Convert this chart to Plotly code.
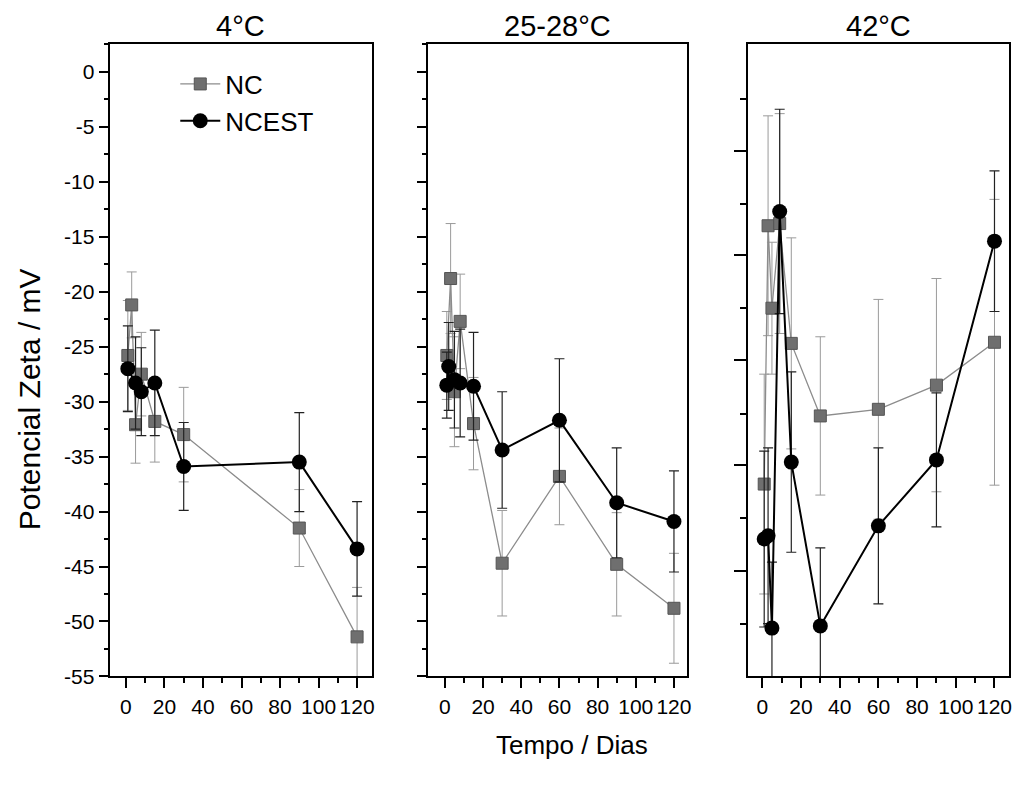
import plotly.graph_objects as go
from plotly.subplots import make_subplots

# 4 oC
d1_nc = [1, 3, 5, 8, 15, 30, 90, 120]
v1_nc = [-25.8, -21.2, -32.1, -27.5, -31.8, -33.0, -41.5, -51.4]
e1_nc = [5.0, 3.0, 3.5, 3.8, 3.7, 4.3, 3.5, 4.5]
d1_st = [1, 5, 8, 15, 30, 90, 120]
v1_st = [-27.0, -28.3, -29.1, -28.3, -35.9, -35.5, -43.4]
e1_st = [3.9, 4.2, 4.0, 4.8, 4.0, 4.5, 4.3]

# 25-28 oC
d2_nc = [1, 3, 5, 8, 15, 30, 60, 90, 120]
v2_nc = [-25.8, -18.8, -29.1, -22.7, -32.0, -44.7, -36.8, -44.8, -48.8]
e2_nc = [4.0, 5.0, 5.0, 4.3, 4.2, 4.8, 4.4, 4.7, 5.0]
d2_st = [1, 2, 5, 8, 15, 30, 60, 90, 120]
v2_st = [-28.5, -26.8, -28.0, -28.3, -28.6, -34.4, -31.7, -39.2, -40.9]
e2_st = [3.0, 4.0, 4.4, 4.9, 4.9, 5.3, 5.6, 5.0, 4.6]

# 42 oC
d3_nc = [1, 3, 5, 9, 15, 30, 60, 90, 120]
v3_nc = [-37.5, -14.0, -21.5, -13.8, -24.7, -31.3, -30.7, -28.5, -24.6]
e3_nc = [10.0, 10.0, 6.0, 10.0, 9.6, 7.2, 10.0, 9.7, 13.0]
d3_st = [1, 3, 5, 9, 15, 30, 60, 90, 120]
v3_st = [-42.5, -42.2, -50.6, -12.7, -35.5, -50.4, -41.3, -35.3, -15.4]
e3_st = [8.0, 8.0, 6.0, 9.3, 8.2, 7.1, 7.1, 6.1, 6.4]

panels = [
    ("4°C", d1_nc, v1_nc, e1_nc, d1_st, v1_st, e1_st),
    ("25-28°C", d2_nc, v2_nc, e2_nc, d2_st, v2_st, e2_st),
    ("42°C", d3_nc, v3_nc, e3_nc, d3_st, v3_st, e3_st),
]

y_ticks = [0, -5, -10, -15, -20, -25, -30, -35, -40, -45, -50, -55]
y_labels = ["0", "-5", "-10", "-15", "-20", "-25", "-30", "-35", "-40",
            "-45", "-50", "-55"]
x_ticks = [0, 20, 40, 60, 80, 100, 120]
# 42 oC panel has its own unlabeled tick marks
y3_major = [-7.2, -16.7, -26.2, -35.8, -45.4]
y3_minor = [-2.5, -12.0, -21.5, -31.1, -40.6, -50.2]

font = "Liberation Sans, Arial, sans-serif"

fig = make_subplots(rows=1, cols=3)

for i, (name, dn, vn, en, ds, vs, es) in enumerate(panels):
    col = i + 1
    fig.add_trace(go.Scatter(
        x=dn, y=vn, name="NC", mode="lines+markers",
        line=dict(color="#8c8c8c", width=1.3),
        marker=dict(symbol="square", size=12, color="#6f6f6f",
                    line=dict(color="#555555", width=1)),
        error_y=dict(type="data", array=en, color="#9a9a9a",
                     thickness=1, width=5),
        showlegend=(i == 0),
    ), row=1, col=col)
    fig.add_trace(go.Scatter(
        x=ds, y=vs, name="NCEST", mode="lines+markers",
        line=dict(color="black", width=2),
        marker=dict(symbol="circle", size=15, color="black"),
        error_y=dict(type="data", array=es, color="#222222",
                     thickness=1.2, width=5),
        showlegend=(i == 0),
    ), row=1, col=col)

domains = [(0.1075, 0.3646), (0.4203, 0.6745), (0.734, 0.990)]
xranges = [(-8.5, 127.5), (-8.7, 127.0), (-7.4, 127.4)]

for i in range(3):
    ax = "" if i == 0 else str(i + 1)
    fig.layout["xaxis" + ax].update(
        domain=domains[i], range=xranges[i], tickvals=x_ticks,
        ticks="outside", ticklen=10, tickwidth=2, tickcolor="black",
        minor=dict(dtick=10, tick0=0, ticks="outside", ticklen=5,
                   tickwidth=1.5, tickcolor="black"),
        showline=True, linecolor="black", linewidth=2, mirror=True,
        showgrid=False, zeroline=False,
        tickfont=dict(family=font, size=21, color="black"),
    )
    yopts = dict(
        domain=[0.1283, 0.9428], range=[-55, 2.5],
        showline=True, linecolor="black", linewidth=2, mirror=True,
        showgrid=False, zeroline=False,
        ticks="outside", tickcolor="black",
        tickfont=dict(family=font, size=21, color="black"),
    )
    if i < 2:
        yopts.update(tickvals=y_ticks,
                     ticktext=y_labels if i == 0 else [""] * len(y_ticks),
                     ticklen=9, tickwidth=2,
                     minor=dict(dtick=2.5, tick0=0, ticks="outside",
                                ticklen=4, tickwidth=1.5, tickcolor="black"))
    else:
        yopts.update(tickvals=y3_major, ticktext=[""] * len(y3_major),
                     ticklen=12, tickwidth=2,
                     minor=dict(tickmode="array", tickvals=y3_minor,
                                ticks="outside", ticklen=6, tickwidth=2,
                                tickcolor="black"))
    fig.layout["yaxis" + ax].update(**yopts)
    fig.add_annotation(
        text=panels[i][0], xref="paper", yref="paper",
        x=sum(domains[i]) / 2, y=0.967, xanchor="center", yanchor="middle",
        showarrow=False, font=dict(family=font, size=29, color="black"),
    )

fig.add_annotation(
    text="Potencial Zeta / mV", xref="paper", yref="paper",
    x=0.029, y=0.485, xanchor="center", yanchor="middle",
    textangle=-90, showarrow=False,
    font=dict(family=font, size=30, color="black"),
)
fig.add_annotation(
    text="Tempo / Dias", xref="paper", yref="paper",
    x=0.561, y=0.04, xanchor="center", yanchor="middle",
    showarrow=False, font=dict(family=font, size=26, color="black"),
)

fig.update_layout(
    width=1023, height=787,
    margin=dict(l=0, r=0, t=0, b=0),
    paper_bgcolor="white", plot_bgcolor="white",
    legend=dict(x=0.172, y=0.922, xanchor="left", yanchor="top",
                bgcolor="rgba(0,0,0,0)",
                font=dict(family=font, size=26, color="black"),
                tracegroupgap=0, itemwidth=40),
)

fig.write_html("out.html", config={"displayModeBar": False},
               post_script="document.body.style.margin='0';")
